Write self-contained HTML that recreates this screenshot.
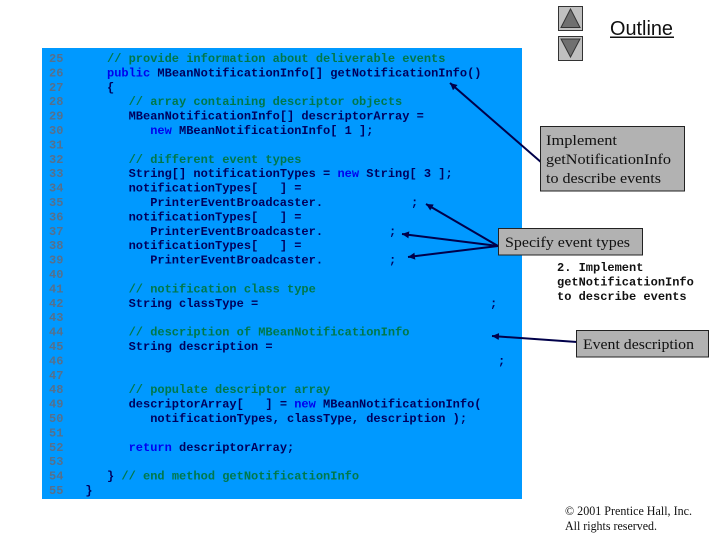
<!DOCTYPE html>
<html><head><meta charset="utf-8"><style>
html,body{margin:0;padding:0;background:#fff;width:720px;height:540px;overflow:hidden}
svg{display:block}
.m{font-family:"Liberation Mono",monospace;font-size:12px;font-weight:bold}
.n{fill:#56708c;font-weight:bold}
.c{fill:#00784a}
.d{fill:#00005c}
.k{fill:#0000ee}
.s{font-family:"Liberation Serif",serif;fill:#111}
</style></head><body>
<svg width="720" height="540" viewBox="0 0 720 540" xmlns="http://www.w3.org/2000/svg">
<defs>
<marker id="a" markerUnits="userSpaceOnUse" markerWidth="9" markerHeight="8" refX="7" refY="4" orient="auto"><path d="M0 0.5L7 4L0 7.5z" fill="#00004a"/></marker>
</defs>
<rect x="42" y="48" width="480" height="451" fill="#0099ff"/>
<g class="m">
<text class="n" x="49" y="62">25</text><text class="c" x="107" y="62">// provide information about deliverable events</text>
<text class="n" x="49" y="76.4">26</text><text class="d" x="107" y="76.4"><tspan class="k">public</tspan> MBeanNotificationInfo[] getNotificationInfo()</text>
<text class="n" x="49" y="90.8">27</text><text class="d" x="107" y="90.8">{</text>
<text class="n" x="49" y="105.2">28</text><text class="c" x="128.6" y="105.2">// array containing descriptor objects</text>
<text class="n" x="49" y="119.6">29</text><text class="d" x="128.6" y="119.6">MBeanNotificationInfo[] descriptorArray =</text>
<text class="n" x="49" y="134">30</text><text class="d" x="150.2" y="134"><tspan class="k">new</tspan> MBeanNotificationInfo[ 1 ];</text>
<text class="n" x="49" y="148.4">31</text>
<text class="n" x="49" y="162.8">32</text><text class="c" x="128.6" y="162.8">// different event types</text>
<text class="n" x="49" y="177.2">33</text><text class="d" x="128.6" y="177.2">String[] notificationTypes = <tspan class="k">new</tspan> String[ 3 ];</text>
<text class="n" x="49" y="191.6">34</text><text class="d" x="128.6" y="191.6">notificationTypes[&#160;&#160;&#160;] =</text>
<text class="n" x="49" y="206">35</text><text class="d" x="150.2" y="206">PrinterEventBroadcaster.</text><text class="d" x="411" y="206">;</text>
<text class="n" x="49" y="220.4">36</text><text class="d" x="128.6" y="220.4">notificationTypes[&#160;&#160;&#160;] =</text>
<text class="n" x="49" y="234.8">37</text><text class="d" x="150.2" y="234.8">PrinterEventBroadcaster.</text><text class="d" x="389" y="234.8">;</text>
<text class="n" x="49" y="249.2">38</text><text class="d" x="128.6" y="249.2">notificationTypes[&#160;&#160;&#160;] =</text>
<text class="n" x="49" y="263.6">39</text><text class="d" x="150.2" y="263.6">PrinterEventBroadcaster.</text><text class="d" x="389" y="263.6">;</text>
<text class="n" x="49" y="278">40</text>
<text class="n" x="49" y="292.4">41</text><text class="c" x="128.6" y="292.4">// notification class type</text>
<text class="n" x="49" y="306.8">42</text><text class="d" x="128.6" y="306.8">String classType =</text><text class="d" x="490" y="306.8">;</text>
<text class="n" x="49" y="321.2">43</text>
<text class="n" x="49" y="335.6">44</text><text class="c" x="128.6" y="335.6">// description of MBeanNotificationInfo</text>
<text class="n" x="49" y="350">45</text><text class="d" x="128.6" y="350">String description =</text>
<text class="n" x="49" y="364.4">46</text><text class="d" x="498" y="364.4">;</text>
<text class="n" x="49" y="378.8">47</text>
<text class="n" x="49" y="393.2">48</text><text class="c" x="128.6" y="393.2">// populate descriptor array</text>
<text class="n" x="49" y="407.6">49</text><text class="d" x="128.6" y="407.6">descriptorArray[&#160;&#160;&#160;] = <tspan class="k">new</tspan> MBeanNotificationInfo(</text>
<text class="n" x="49" y="422">50</text><text class="d" x="150.2" y="422">notificationTypes, classType, description );</text>
<text class="n" x="49" y="436.4">51</text>
<text class="n" x="49" y="450.8">52</text><text class="d" x="128.6" y="450.8"><tspan class="k">return</tspan> descriptorArray;</text>
<text class="n" x="49" y="465.2">53</text>
<text class="n" x="49" y="479.6">54</text><text class="d" x="107" y="479.6">} <tspan class="c">// end method getNotificationInfo</tspan></text>
<text class="n" x="49" y="494">55</text><text class="d" x="85.4" y="494">}</text>
</g>

<!-- nav buttons -->
<rect x="558.5" y="6.5" width="24" height="24" fill="#c0c0c0" stroke="#333"/>
<path d="M570.5 9L580 27.5H561z" fill="#707070" stroke="#333"/>
<rect x="558.5" y="36.5" width="24" height="24" fill="#c0c0c0" stroke="#333"/>
<path d="M570.5 57L580 39H561z" fill="#707070" stroke="#333"/>
<text x="610" y="35" font-family="Liberation Sans,sans-serif" font-size="20" fill="#111" textLength="63" lengthAdjust="spacingAndGlyphs">Outline</text>
<rect x="610" y="36.5" width="64" height="1.5" fill="#111"/>

<!-- connectors -->
<g stroke="#00004a" stroke-width="2" fill="none">
<line x1="542" y1="163" x2="450" y2="83" marker-end="url(#a)"/>
<line x1="498" y1="246" x2="426" y2="204" marker-end="url(#a)"/>
<line x1="498" y1="246" x2="402" y2="234" marker-end="url(#a)"/>
<line x1="498" y1="246" x2="408" y2="257" marker-end="url(#a)"/>
<line x1="577" y1="342" x2="492" y2="336" marker-end="url(#a)"/>
</g>

<!-- callouts -->
<rect x="540.5" y="126.5" width="144" height="64.5" fill="#b2b2b2" stroke="#222"/>
<text class="s" font-size="14.5" x="546" y="145" textLength="71" lengthAdjust="spacingAndGlyphs">Implement</text>
<text class="s" font-size="14.5" x="546" y="164" textLength="125" lengthAdjust="spacingAndGlyphs">getNotificationInfo</text>
<text class="s" font-size="14.5" x="546" y="183" textLength="115" lengthAdjust="spacingAndGlyphs">to describe events</text>

<rect x="498.5" y="228.5" width="144" height="26.5" fill="#b2b2b2" stroke="#222"/>
<text class="s" font-size="14.5" x="505" y="247" textLength="125" lengthAdjust="spacingAndGlyphs">Specify event types</text>

<rect x="576.5" y="330.5" width="132" height="26.5" fill="#b2b2b2" stroke="#222"/>
<text class="s" font-size="14.5" x="583" y="349" textLength="111" lengthAdjust="spacingAndGlyphs">Event description</text>

<g class="m" fill="#111">
<text x="557" y="271">2. Implement</text>
<text x="557" y="285.4">getNotificationInfo</text>
<text x="557" y="300">to describe events</text>
</g>

<text class="s" font-size="12.5" x="565" y="515" textLength="127" lengthAdjust="spacingAndGlyphs">© 2001 Prentice Hall, Inc.</text>
<text class="s" font-size="12.5" x="565" y="530" textLength="92" lengthAdjust="spacingAndGlyphs">All rights reserved.</text>
</svg>
</body></html>
